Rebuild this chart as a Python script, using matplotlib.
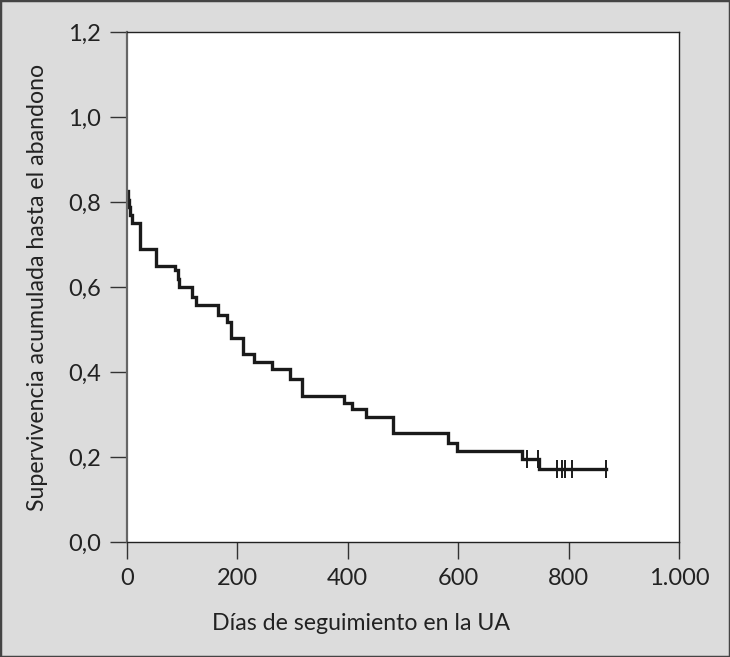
import matplotlib
matplotlib.use("Agg")
import matplotlib.pyplot as plt
from matplotlib.patches import Rectangle
from matplotlib.ticker import FuncFormatter

# Curva de Kaplan-Meier (días, supervivencia)
dias = [0, 2, 4, 6, 9, 23, 52, 87, 92, 95, 118, 125, 165, 181, 188, 210, 230,
        262, 295, 317, 393, 408, 433, 482, 581, 598, 715, 746]
superv = [0.826, 0.805, 0.788, 0.77, 0.75, 0.69, 0.65, 0.64, 0.62, 0.60, 0.576,
          0.558, 0.534, 0.518, 0.48, 0.442, 0.424, 0.407, 0.384, 0.344, 0.327,
          0.313, 0.294, 0.256, 0.233, 0.214, 0.195, 0.172]
dia_final = 868
censurados = [725, 745, 779, 788, 793, 806, 868]

x_ticks = [0, 200, 400, 600, 800, 1000]
y_ticks = [0.0, 0.2, 0.4, 0.6, 0.8, 1.0, 1.2]

plt.rcParams['font.family'] = ['Lato', 'DejaVu Sans']

fig = plt.figure(figsize=(7.3, 6.57), dpi=100, facecolor='#dcdcdc')
ax = fig.add_axes([0.174, 0.175, 0.756, 0.776])
ax.set_facecolor('white')

xs = dias + [dia_final]
ys = superv + [superv[-1]]
ax.step(xs, ys, where='post', color='#1a1a1a', lw=2.4, solid_joinstyle='miter')


def s_en(t):
    val = superv[0]
    for d, s in zip(dias, superv):
        if d <= t:
            val = s
    return val


cy = [s_en(c) for c in censurados]
ax.plot(censurados, cy, ls='none', marker='|', ms=13, mew=1.4, color='#1a1a1a')

ax.set_xlim(0, 1000)
ax.set_ylim(0, 1.2)
ax.set_xticks(x_ticks)
ax.set_yticks(y_ticks)
ax.xaxis.set_major_formatter(FuncFormatter(lambda v, p: f"{int(v):,}".replace(",", ".")))
ax.yaxis.set_major_formatter(FuncFormatter(lambda v, p: f"{v:.1f}".replace(".", ",")))
ax.tick_params(axis='both', direction='out', length=12, width=1.0, color='#333333',
               labelsize=17, labelcolor='#222222')
ax.tick_params(axis='x', pad=7)
ax.tick_params(axis='y', pad=7)

ax.spines['left'].set_color('#666666')
ax.spines['left'].set_linewidth(1.6)
ax.spines['bottom'].set_color('#222222')
ax.spines['bottom'].set_linewidth(1.0)
ax.spines['top'].set_color('#222222')
ax.spines['top'].set_linewidth(1.0)
ax.spines['right'].set_color('#222222')
ax.spines['right'].set_linewidth(1.0)

ax.set_xlabel('Días de seguimiento en la UA', fontsize=16.7, color='#222222')
ax.xaxis.set_label_coords(0.424, -0.14)
ax.set_ylabel('Supervivencia acumulada hasta el abandono', fontsize=16.7, color='#222222',
              labelpad=14)

fig.patches.append(Rectangle((0, 0), 1, 1, transform=fig.transFigure, fill=False,
                             edgecolor='#444444', lw=2.5))

fig.savefig('out.png', dpi=100, facecolor=fig.get_facecolor())
